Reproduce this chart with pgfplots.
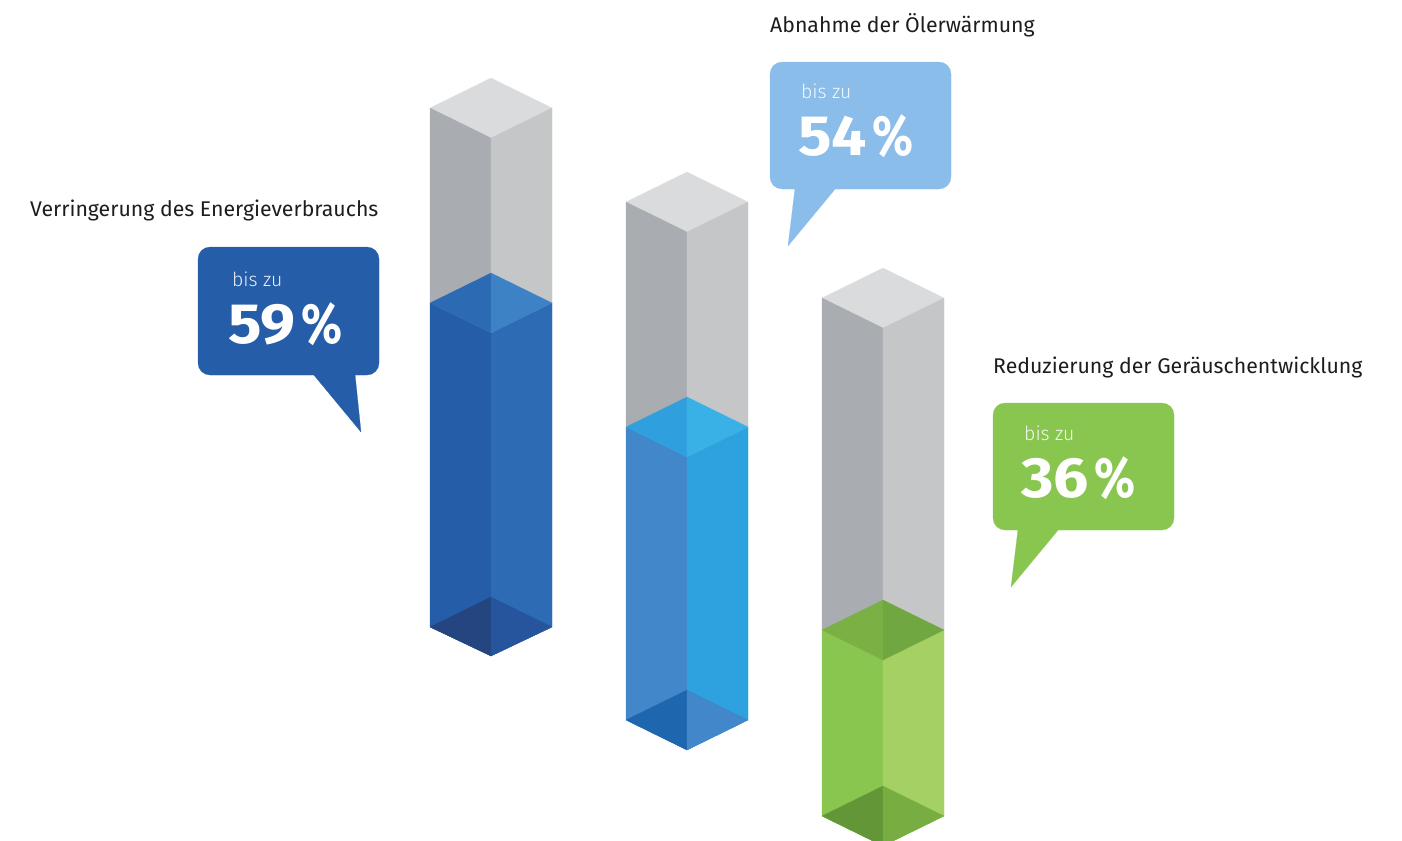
\documentclass[border=0pt]{standalone}
\usepackage{fontspec}
\usepackage{graphicx}
\usepackage{pgfplots}
\pgfplotsset{compat=1.18}
\setmainfont{Fira Sans}
\newfontfamily\lightfont{Fira Sans Light}
\newfontfamily\boldnum{Fira Sans}[UprightFont=*, BoldFont=* Bold]
\definecolor{txt}{HTML}{1D1D1B}
\definecolor{grayL}{HTML}{A9ACB0}
\definecolor{grayR}{HTML}{C5C6C8}
\definecolor{grayT}{HTML}{DADBDD}
\definecolor{aL}{HTML}{255DA9}
\definecolor{aR}{HTML}{2E6BB5}
\definecolor{aTL}{HTML}{2C6BB4}
\definecolor{aTR}{HTML}{3D82C4}
\definecolor{aBL}{HTML}{24457F}
\definecolor{aBR}{HTML}{26559E}
\definecolor{bL}{HTML}{4187CA}
\definecolor{bR}{HTML}{2DA2DF}
\definecolor{bTL}{HTML}{2FA0DD}
\definecolor{bTR}{HTML}{3AB1E6}
\definecolor{bBL}{HTML}{1E66AE}
\definecolor{bBR}{HTML}{4187CA}
\definecolor{bub}{HTML}{8ABDE9}
\definecolor{cL}{HTML}{88C64F}
\definecolor{cR}{HTML}{A5D064}
\definecolor{cTL}{HTML}{7BB144}
\definecolor{cTR}{HTML}{71A741}
\definecolor{cBL}{HTML}{629636}
\definecolor{cBR}{HTML}{78AE41}
\pgfplotsset{
  face/.style={fill=#1, draw=#1, line width=0.2pt, mark=none, forget plot},
  box/.style={fill=#1, draw=#1, line width=0.2pt, mark=none, forget plot, rounded corners=12bp},
}
\newcommand{\headline}[3]{\node[anchor=base west, inner sep=0pt, text=txt, font=\fontsize{21.35}{25}\selectfont] at (axis cs:#1,#2) {#3};}
\newcommand{\biszu}[2]{\node[anchor=base west, inner sep=0pt, text=white, opacity=0.9, font=\fontsize{19.5}{22}\lightfont] at (axis cs:#1,#2) {bis zu};}
\newcommand{\bignum}[3]{\node[anchor=base west, inner sep=0pt, text=white, font=\fontsize{57}{64}\boldnum\bfseries] at (axis cs:#1,#2) {\scalebox{1.1}[1]{#3}\hspace{6bp}\scalebox{0.84}[1]{\%}};}
\begin{document}
\begin{tikzpicture}
\begin{axis}[
  scale only axis,
  width=1402bp,
  height=840bp,
  xmin=0, xmax=1402,
  ymin=0, ymax=840,
  y dir=reverse,
  hide axis,
]
% bar 1, 59 %
\addplot[face=grayT] coordinates {(430,108) (491,78) (552,108) (491,138)} -- cycle;
\addplot[face=grayL] coordinates {(430,108) (491,138) (491,333) (430,303)} -- cycle;
\addplot[face=grayR] coordinates {(491,138) (552,108) (552,303) (491,333)} -- cycle;
\addplot[face=aL] coordinates {(430,303) (491,333) (491,656) (430,627)} -- cycle;
\addplot[face=aR] coordinates {(491,333) (552,303) (552,627) (491,656)} -- cycle;
\addplot[face=aTL] coordinates {(430,303) (491,273) (491,333)} -- cycle;
\addplot[face=aTR] coordinates {(491,273) (552,303) (491,333)} -- cycle;
\addplot[face=aBL] coordinates {(430,627) (491,597) (491,656)} -- cycle;
\addplot[face=aBR] coordinates {(491,597) (552,627) (491,656)} -- cycle;
% bar 2, 54 %
\addplot[face=grayT] coordinates {(626,202) (687,172) (748,202) (687,232)} -- cycle;
\addplot[face=grayL] coordinates {(626,202) (687,232) (687,457) (626,427)} -- cycle;
\addplot[face=grayR] coordinates {(687,232) (748,202) (748,427) (687,457)} -- cycle;
\addplot[face=bL] coordinates {(626,427) (687,457) (687,750) (626,720)} -- cycle;
\addplot[face=bR] coordinates {(687,457) (748,427) (748,720) (687,750)} -- cycle;
\addplot[face=bTL] coordinates {(626,427) (687,397) (687,457)} -- cycle;
\addplot[face=bTR] coordinates {(687,397) (748,427) (687,457)} -- cycle;
\addplot[face=bBL] coordinates {(626,720) (687,690) (687,750)} -- cycle;
\addplot[face=bBR] coordinates {(687,690) (748,720) (687,750)} -- cycle;
% bar 3, 36 %
\addplot[face=grayT] coordinates {(822,298) (883,268) (944,298) (883,328)} -- cycle;
\addplot[face=grayL] coordinates {(822,298) (883,328) (883,660) (822,630)} -- cycle;
\addplot[face=grayR] coordinates {(883,328) (944,298) (944,630) (883,660)} -- cycle;
\addplot[face=cL] coordinates {(822,630) (883,660) (883,846) (822,816)} -- cycle;
\addplot[face=cR] coordinates {(883,660) (944,630) (944,816) (883,846)} -- cycle;
\addplot[face=cTL] coordinates {(822,630) (883,600) (883,660)} -- cycle;
\addplot[face=cTR] coordinates {(883,600) (944,630) (883,660)} -- cycle;
\addplot[face=cBL] coordinates {(822,816) (883,786) (883,846)} -- cycle;
\addplot[face=cBR] coordinates {(883,786) (944,816) (883,846)} -- cycle;
% speech bubbles
\addplot[box=aL] coordinates {(198,247) (379,247) (379,375) (198,375)} -- cycle;
\addplot[face=aL] coordinates {(313,374) (361,432) (355,374)} -- cycle;
\addplot[box=bub] coordinates {(770,62) (951,62) (951,189) (770,189)} -- cycle;
\addplot[face=bub] coordinates {(795,188) (788,246) (836,188)} -- cycle;
\addplot[box=cL] coordinates {(993,403) (1174,403) (1174,530) (993,530)} -- cycle;
\addplot[face=cL] coordinates {(1018,529) (1011,587) (1059,529)} -- cycle;
% text
\headline{30}{216}{Verringerung des Energieverbrauchs}
\headline{770}{32}{Abnahme der Ölerwärmung}
\headline{993}{373}{Reduzierung der Geräuschentwicklung}
\biszu{232}{286}
\biszu{801}{98}
\biszu{1024}{440}
\bignum{228}{343}{59}
\bignum{798}{155}{54}
\bignum{1021}{497}{36}
\path[use as bounding box] (axis cs:0,0) rectangle (axis cs:1402,840);
\end{axis}
\end{tikzpicture}
\end{document}
